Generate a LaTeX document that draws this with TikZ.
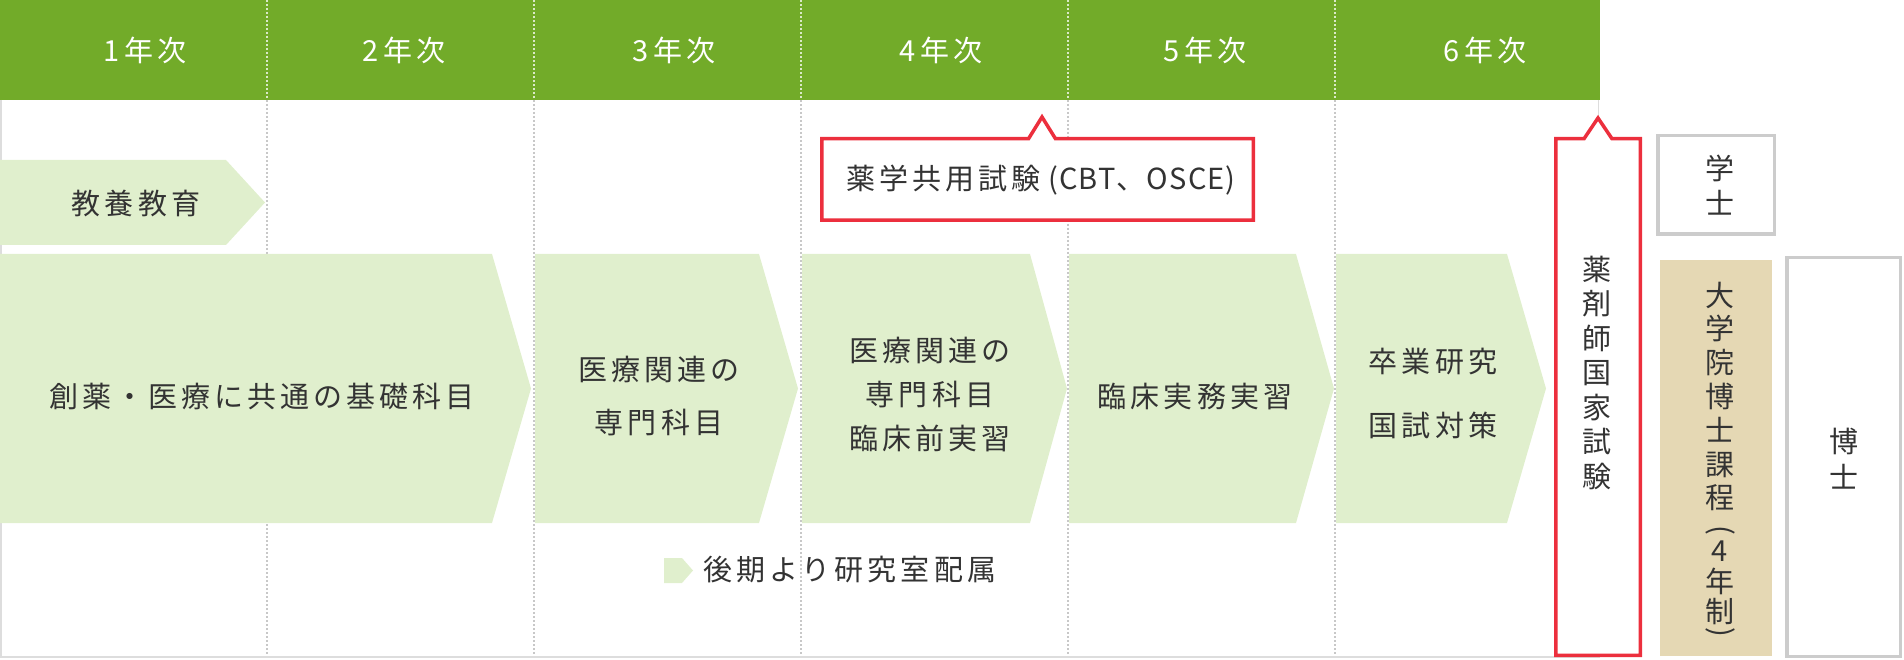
\documentclass[tikz,border=0pt]{standalone}
\usepackage{fontspec}
\setmainfont[LetterSpace=14]{Noto Sans CJK JP}
\newfontfamily\jpv{Noto Sans CJK JP}
\newfontfamily\jpl[LetterSpace=4]{Noto Sans CJK JP}
\definecolor{hdr}{HTML}{72AB29}
\definecolor{lgreen}{HTML}{E0EFCD}
\definecolor{redc}{HTML}{EC2F3D}
\definecolor{tanc}{HTML}{E5D8B4}
\definecolor{gboxc}{HTML}{CCCCCC}
\definecolor{glinec}{HTML}{DDDDDD}
\definecolor{dlinec}{HTML}{C8C8C8}
\definecolor{txtc}{HTML}{333333}
\tikzset{
  lbl/.style={text=txtc, inner sep=0pt, font=\fontsize{29}{34}\selectfont, align=center},
  vlbl/.style={text=txtc, inner sep=0pt, align=center},
  hlbl/.style={text=white, inner sep=0pt, font=\fontsize{29}{34}\selectfont},
  colline/.style={dlinec, line width=1.2pt, dash pattern=on 2pt off 2pt},
  hcolline/.style={white, opacity=0.75, line width=1.2pt, dash pattern=on 2pt off 2pt},
  tborder/.style={glinec, line width=1.7pt},
  chev/.style={fill=lgreen},
  redbox/.style={draw=redc, fill=white, line width=3.5pt, miter limit=10},
  graybox/.style={draw=gboxc, fill=white, line width=3.5pt},
}
\begin{document}
\begin{tikzpicture}[x=1pt,y=-1pt]
\useasboundingbox (0,0) rectangle (1904,660);
% header
\fill[hdr] (0,0) rectangle (1600,100);
% column lines
\foreach \cx in {267,534,801,1068,1335}{
  \draw[hcolline] (\cx,0) -- (\cx,100);
  \draw[colline] (\cx,100) -- (\cx,657);
}
% table border
\draw[tborder] (0.85,100) -- (0.85,657) -- (1600,657);
\draw[glinec, line width=1.2pt] (1598.5,100) -- (1598.5,657);
% chevrons
\fill[chev] (0,160) -- (226,160) -- (265,202.5) -- (226,245) -- (0,245) -- cycle;
\fill[chev] (0,254) -- (492,254) -- (531,388.5) -- (492,523) -- (0,523) -- cycle;
\fill[chev] (535,254) -- (759,254) -- (798,388.5) -- (759,523) -- (535,523) -- cycle;
\fill[chev] (802,254) -- (1030,254) -- (1067,388.5) -- (1030,523) -- (802,523) -- cycle;
\fill[chev] (1069,254) -- (1296,254) -- (1334,388.5) -- (1296,523) -- (1069,523) -- cycle;
\fill[chev] (1336,254) -- (1507,254) -- (1546,388.5) -- (1507,523) -- (1336,523) -- cycle;
% legend marker
\fill[chev] (664,558) -- (682,558) -- (693,570.5) -- (682,583) -- (664,583) -- cycle;
% red boxes
\draw[redbox] (821.75,138.75) -- (1028.5,138.75) -- (1042,117) -- (1055.5,138.75) -- (1253.25,138.75) -- (1253.25,220.25) -- (821.75,220.25) -- cycle;
\draw[redbox] (1555.75,138.75) -- (1584,138.75) -- (1598,118) -- (1612,138.75) -- (1640.25,138.75) -- (1640.25,655.25) -- (1555.75,655.25) -- cycle;
% gray boxes
\draw[graybox] (1657.75,135.75) rectangle (1774.25,234.25);
\draw[graybox] (1786.75,257.75) rectangle (1900.25,656.25);
% tan box
\fill[tanc] (1660,260) rectangle (1772,656);
% header labels
\node[hlbl] (y1) at (145,50) {1年次};
\node[hlbl] (y2) at (404,50) {2年次};
\node[hlbl] (y3) at (674,50) {3年次};
\node[hlbl] (y4) at (941,50) {4年次};
\node[hlbl] (y5) at (1205,50) {5年次};
\node[hlbl] (y6) at (1485,50) {6年次};
% body labels
\node[lbl] (kyoyo) at (136,203) {教養教育};
\node[lbl] (kiso) at (262,396) {創薬・医療に共通の基礎科目};
\node[lbl] (senmon) at (659,396.5) {医療関連の\\[19pt]専門科目};
\node[lbl] (rinsho) at (930,395) {医療関連の\\[10pt]専門科目\\[10pt]臨床前実習};
\node[lbl] (jitsumu) at (1195,397) {臨床実務実習};
\node[lbl] (sotsugyo) at (1433,393) {卒業研究\\[30pt]国試対策};
\node[lbl] (cbt) at (1041,180) {薬学共用試験{\jpl\ (CBT、OSCE)}};
\node[lbl, anchor=west] (legend) at (703,570) {後期より研究室配属};
% vertical labels
\node[vlbl, font=\jpv\fontsize{29}{34.5}\selectfont] (kokushi) at (1597,372.5) {薬\\剤\\師\\国\\家\\試\\験};
\node[vlbl, font=\jpv\fontsize{29}{35}\selectfont] (gakushi) at (1720,185.5) {学\\士};
\node[vlbl, font=\jpv\fontsize{29}{36}\selectfont] (hakushi) at (1844,459) {博\\士};
\node[vlbl, font=\jpv\fontsize{29}{33.8}\selectfont] (dokatei) at (1720,396.5) {大\\学\\院\\博\\士\\課\\程};
\node[vlbl, font=\jpv\fontsize{29}{34}\selectfont, rotate=-90] (popen) at (1720,530) {(};
\node[vlbl, font=\jpv\fontsize{29}{34}\selectfont] (four) at (1720,551) {4};
\node[vlbl, font=\jpv\fontsize{29}{30}\selectfont] (nensei) at (1720,596) {年\\制};
\node[vlbl, font=\jpv\fontsize{29}{34}\selectfont, rotate=-90] (pclose) at (1720,632) {)};
\end{tikzpicture}
\end{document}
